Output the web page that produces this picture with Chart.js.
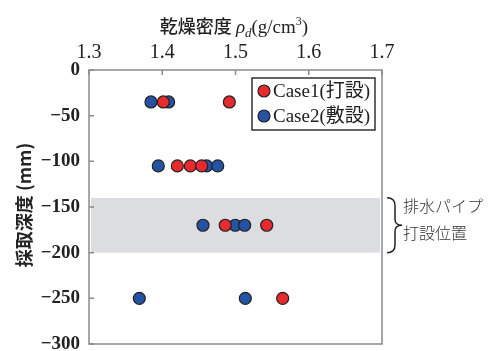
<!DOCTYPE html>
<html>
<head>
<meta charset="utf-8">
<script src="https://cdn.jsdelivr.net/npm/chart.js@4"></script>
<style>
  body { margin: 0; background: #fff; }
  #wrap { width: 490px; height: 351px; }
</style>
</head>
<body>
<div id="wrap"><canvas id="myChart" width="490" height="351"></canvas></div>
<script>
// data
const case1Density = [1.4015, 1.4916, 1.4206, 1.4383, 1.4538, 1.486, 1.5426, 1.5644];
const case1Depth   = [-35, -35, -105, -105, -105, -170, -170, -250];
const case2Density = [1.3846, 1.4087, 1.3946, 1.4607, 1.4757, 1.4556, 1.4997, 1.5125, 1.3687, 1.5134];
const case2Depth   = [-35, -35, -105, -105, -105, -170, -170, -170, -250, -250];
const seriesNames = ["Case1(打設)", "Case2(敷設)"];
const xTicks = [1.3, 1.4, 1.5, 1.6, 1.7];
const yTicks = [0, -50, -100, -150, -200, -250, -300];
const bandFrom = -140, bandTo = -200;

const red = '#e8292d', blue = '#2552a3';
const serif = '"Liberation Serif", "Noto Sans CJK JP", serif';

function pts(xs, ys) {
  return xs.map((v, i) => ({x: v, y: ys[i]}));
}

const deco = {
  id: 'deco',
  beforeDatasetsDraw(chart) {
    const {ctx, chartArea: a, scales: {x, y}} = chart;
    ctx.save();
    // pipe band
    ctx.fillStyle = '#dcdde0';
    const y1 = y.getPixelForValue(bandFrom), y2 = y.getPixelForValue(bandTo);
    ctx.fillRect(a.left + 2, y1, a.right - a.left - 4, y2 - y1);
    // box + inward ticks
    ctx.strokeStyle = '#8a8a8a';
    ctx.lineWidth = 1.5;
    ctx.strokeRect(a.left, a.top, a.right - a.left, a.bottom - a.top);
    ctx.beginPath();
    xTicks.forEach(v => {
      const px = x.getPixelForValue(v);
      ctx.moveTo(px, a.top); ctx.lineTo(px, a.top + 5);
    });
    yTicks.forEach(v => {
      const py = y.getPixelForValue(v);
      ctx.moveTo(a.left, py); ctx.lineTo(a.left + 5, py);
    });
    ctx.stroke();
    ctx.restore();
  },
  afterDraw(chart) {
    const {ctx, chartArea: a, scales: {y}} = chart;
    ctx.save();
    ctx.fillStyle = '#222';
    ctx.textBaseline = 'alphabetic';

    // title: 乾燥密度 ρd(g/cm3)
    const t1 = '乾燥密度 ';
    ctx.font = '500 18px "Noto Sans CJK JP"';
    const w1 = ctx.measureText(t1).width;
    ctx.font = 'italic 19px "Liberation Serif"';
    const wr = ctx.measureText('ρ').width;
    ctx.font = 'italic 13px "Liberation Serif"';
    const wd = ctx.measureText('d').width;
    ctx.font = '19px "Liberation Serif"';
    const wg = ctx.measureText('(g/cm').width;
    ctx.font = '12px "Liberation Serif"';
    const w3 = ctx.measureText('3').width;
    ctx.font = '19px "Liberation Serif"';
    const wp = ctx.measureText(')').width;
    let cx = 234 - (w1 + wr + wd + wg + w3 + wp) / 2;
    const by = 33;
    ctx.textAlign = 'left';
    ctx.font = '500 18px "Noto Sans CJK JP"';
    ctx.fillText(t1, cx, by); cx += w1;
    ctx.font = 'italic 19px "Liberation Serif"';
    ctx.fillText('ρ', cx, by); cx += wr;
    ctx.font = 'italic 13px "Liberation Serif"';
    ctx.fillText('d', cx, by + 4); cx += wd;
    ctx.font = '19px "Liberation Serif"';
    ctx.fillText('(g/cm', cx, by); cx += wg;
    ctx.font = '12px "Liberation Serif"';
    ctx.fillText('3', cx, by - 8); cx += w3;
    ctx.font = '19px "Liberation Serif"';
    ctx.fillText(')', cx, by);

    // y title
    ctx.save();
    ctx.translate(24, 205);
    ctx.rotate(-Math.PI / 2);
    ctx.textAlign = 'center';
    ctx.textBaseline = 'middle';
    ctx.font = 'bold 18px "Noto Sans CJK JP"';
    ctx.fillText('採取深度 (mm)', 0, 0);
    ctx.restore();

    // legend
    const lx = 252, ly = 78, lw = 123, lh = 52;
    ctx.fillStyle = '#fff';
    ctx.fillRect(lx, ly, lw, lh);
    ctx.strokeStyle = '#333';
    ctx.lineWidth = 1.5;
    ctx.strokeRect(lx, ly, lw, lh);
    [[red, 91], [blue, 116]].forEach(([c, yy], i) => {
      ctx.beginPath();
      ctx.arc(264, yy, 6, 0, Math.PI * 2);
      ctx.fillStyle = c; ctx.fill();
      ctx.lineWidth = 1.2; ctx.strokeStyle = '#222'; ctx.stroke();
      ctx.fillStyle = '#222';
      ctx.font = '19px ' + serif;
      ctx.textAlign = 'left';
      ctx.textBaseline = 'middle';
      ctx.fillText(seriesNames[i], 273, yy + 1);
    });

    // brace + note
    const top = y.getPixelForValue(bandFrom), bot = y.getPixelForValue(bandTo);
    const mid = (top + bot) / 2;
    const bx = a.right + 5;
    ctx.strokeStyle = '#222';
    ctx.lineWidth = 1.5;
    ctx.beginPath();
    ctx.moveTo(bx, top);
    ctx.quadraticCurveTo(bx + 8, top, bx + 8, top + 8);
    ctx.lineTo(bx + 8, mid - 6);
    ctx.quadraticCurveTo(bx + 8, mid, bx + 15, mid);
    ctx.quadraticCurveTo(bx + 8, mid, bx + 8, mid + 6);
    ctx.lineTo(bx + 8, bot - 8);
    ctx.quadraticCurveTo(bx + 8, bot, bx, bot);
    ctx.stroke();
    ctx.fillStyle = '#333';
    ctx.font = '300 16px "Noto Sans CJK JP"';
    ctx.textAlign = 'left';
    ctx.textBaseline = 'middle';
    ctx.fillText('排水パイプ', 403, 206);
    ctx.fillText('打設位置', 403, 233);
    ctx.restore();
  }
};

new Chart(document.getElementById('myChart'), {
  type: 'scatter',
  data: {
    datasets: [
      {label: seriesNames[0], data: pts(case1Density, case1Depth), backgroundColor: red},
      {label: seriesNames[1], data: pts(case2Density, case2Depth), backgroundColor: blue}
    ]
  },
  options: {
    responsive: false,
    animation: false,
    layout: {padding: {top: 0, right: 108, bottom: 7, left: 0}, autoPadding: false},
    elements: {point: {radius: 6, borderWidth: 1.2, borderColor: '#222', hoverRadius: 6}},
    plugins: {legend: {display: false}, tooltip: {enabled: false}},
    scales: {
      x: {
        type: 'linear', position: 'top', min: 1.3, max: 1.7,
        afterBuildTicks: s => { s.ticks = xTicks.map(v => ({value: v})); },
        afterFit: s => { s.height = 70; s.paddingLeft = 0; s.paddingRight = 0; },
        grid: {display: false, drawTicks: false},
        border: {display: false},
        ticks: {padding: 5, color: '#222', font: {family: 'Liberation Serif', size: 20},
          callback: v => v.toFixed(1)}
      },
      y: {
        type: 'linear', min: -300, max: 0,
        afterBuildTicks: s => { s.ticks = yTicks.map(v => ({value: v})); },
        afterFit: s => { s.width = 89; s.paddingTop = 0; s.paddingBottom = 0; },
        grid: {display: false, drawTicks: false},
        border: {display: false},
        ticks: {padding: 9, color: '#222', font: {family: 'Liberation Serif', size: 19, weight: 'bold'},
          callback: v => v < 0 ? '\u2212' + Math.abs(v) : String(v)}
      }
    }
  },
  plugins: [deco]
});
</script>
</body>
</html>
